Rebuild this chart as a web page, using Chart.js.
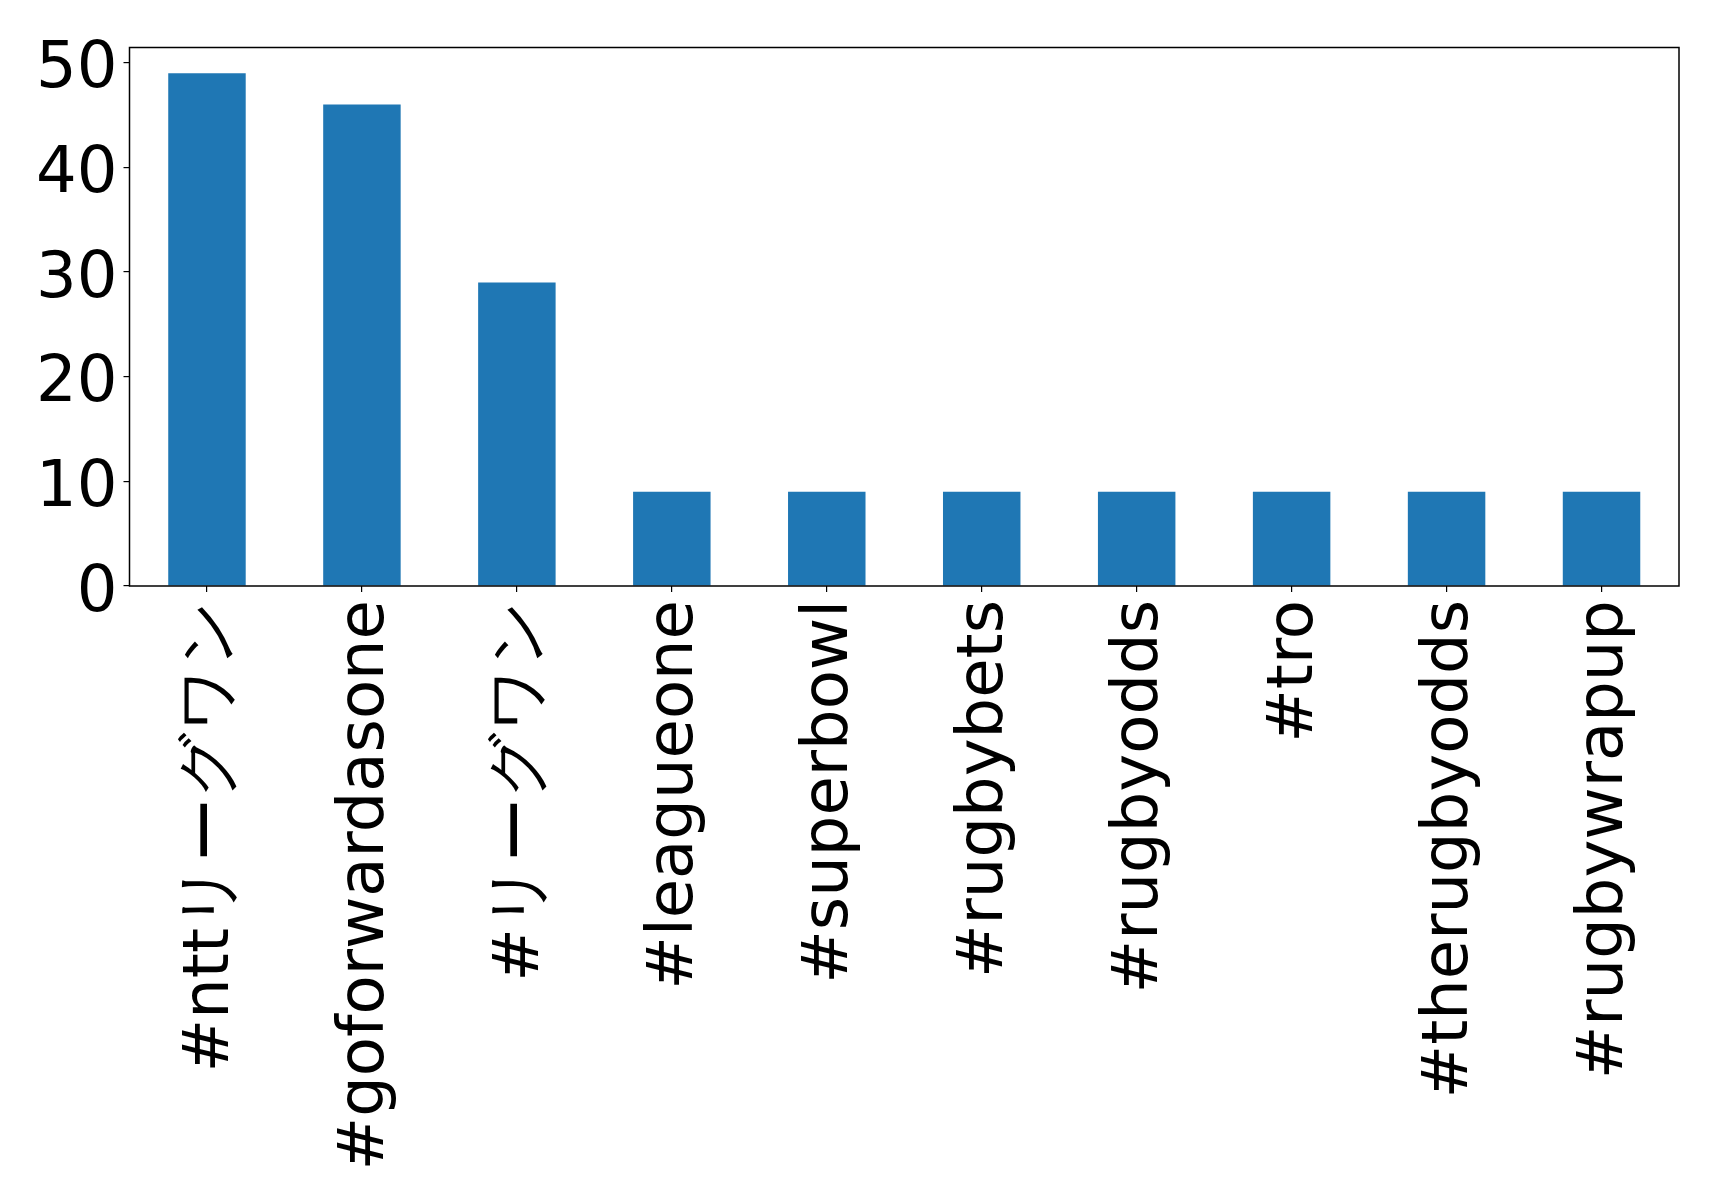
<!DOCTYPE html>
<html>
<head>
<meta charset="utf-8">
<script src="https://cdn.jsdelivr.net/npm/chart.js@4/dist/chart.umd.min.js"></script>
<style>
  body { margin: 0; background: #fff; }
  #wrap { width: 1719px; height: 1193px; }
</style>
</head>
<body>
<div id="wrap"><canvas id="graphi" width="1719" height="1193"></canvas></div>
<script>
// hashtags and counts
const hashtags = ["#nttリーグワン", "#goforwardasone", "#リーグワン", "#leagueone", "#superbowl",
                  "#rugbybets", "#rugbyodds", "#tro", "#therugbyodds", "#rugbywrapup"];
const counts = [49, 46, 29, 9, 9, 9, 9, 9, 9, 9];
const yTicks = [0, 10, 20, 30, 40, 50];

const barColor = "#1f77b4";
const fontFamily = "'DejaVu Sans', sans-serif";

// frame round the plot area, like matplotlib spines
const boxPlugin = {
    id: 'box',
    afterDraw(chart) {
        const a = chart.chartArea;
        const ctx = chart.ctx;
        ctx.save();
        ctx.strokeStyle = '#000';
        ctx.lineWidth = 1.5;
        ctx.strokeRect(a.left, a.top, a.right - a.left, a.bottom - a.top);
        ctx.restore();
    }
};

const data = {
    labels: hashtags,
    datasets: [{
        data: counts,
        backgroundColor: barColor,
        borderWidth: 0,
        categoryPercentage: 1.0,
        barPercentage: 0.5
    }]
};

const options = {
    responsive: false,
    animation: false,
    layout: { padding: { top: 47.5, right: 40, left: 0, bottom: 0 } },
    plugins: {
        legend: { display: false },
        tooltip: { enabled: false }
    },
    scales: {
        x: {
            grid: { offset: false, drawOnChartArea: false, drawTicks: true, tickLength: 6, color: '#000', lineWidth: 1.2 },
            border: { display: false },
            ticks: {
                color: '#000',
                font: { family: fontFamily, size: 64 },
                minRotation: 90,
                maxRotation: 90,
                autoSkip: false,
                padding: 8,
                labelOffset: 4
            },
            afterFit: (scale) => { scale.height = 1193 - 586; }
        },
        y: {
            min: 0,
            max: Math.max(...counts) * 1.05,
            grid: { drawOnChartArea: false, drawTicks: true, tickLength: 6, color: '#000', lineWidth: 1.2 },
            border: { display: false },
            ticks: {
                color: '#000',
                font: { family: fontFamily, size: 64 },
                stepSize: 10,
                padding: 6,
                labelOffset: 8
            },
            afterBuildTicks: (scale) => {
                scale.ticks = yTicks.map(v => ({ value: v }));
            },
            afterFit: (scale) => { scale.width = 129.5; }
        }
    }
};

new Chart('graphi', { type: 'bar', data, options, plugins: [boxPlugin] });
</script>
</body>
</html>
